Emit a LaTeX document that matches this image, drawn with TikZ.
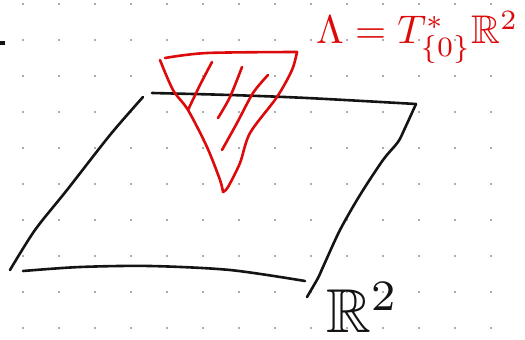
\documentclass[tikz,border=0pt]{standalone}
\usepackage{amssymb}
\usepackage{graphicx}
\definecolor{ink}{RGB}{20,20,20}
\definecolor{redink}{RGB}{220,10,10}
\definecolor{gridgray}{RGB}{90,90,90}
\begin{document}
\begin{tikzpicture}[x=1pt,y=-1pt,
  blackstroke/.style={draw=ink,line width=2.6pt,line cap=round,line join=round},
  redstroke/.style={draw=redink,line width=2.6pt,line cap=round,line join=round},
  griddot/.style={fill=gridgray},
  redlabel/.style={text=redink,inner sep=0pt,anchor=north west},
  blacklabel/.style={text=ink,inner sep=0pt,anchor=north west}]
\useasboundingbox (0,0) rectangle (525,340);
% dotted grid
\foreach \i in {0,...,13}{
  \foreach \j in {0,...,9}{
    \fill[griddot] (23+36*\i,4+36*\j) circle (0.9pt);
  }
}
% stray mark at left
\fill[ink] (0,41) rectangle (5,45);
% parallelogram (plane)
\draw[blackstroke] plot[smooth] coordinates {(143,97) (110,135) (67,190) (35,230) (10,270)};
\draw[blackstroke] plot[smooth] coordinates {(152,93) (230,95) (307,98) (416,104)};
\draw[blackstroke] plot[smooth] coordinates {(416,104) (405,128) (398,142) (383,160) (360,195) (340,230) (323,267) (318,278) (307,297)};
\draw[blackstroke] plot[smooth] coordinates {(23,271) (80,267) (150,266) (230,270) (305,281)};
% red cone
\draw[redstroke] plot[smooth] coordinates {(165,58) (207,53) (297,52)};
\draw[redstroke] plot[smooth] coordinates {(160,60) (173,90) (188,110) (207,147) (220,180) (223,192)};
\draw[redstroke] plot[smooth] coordinates {(297,52) (292,70) (277,97) (250,133) (240,163) (228,187) (223,192)};
\draw[redstroke] plot[smooth] coordinates {(212,62) (200,85) (188,110)};
\draw[redstroke] plot[smooth] coordinates {(242,67) (230,97) (218,118)};
\draw[redstroke] plot[smooth] coordinates {(268,75) (253,93) (237,123) (222,150)};
% labels
\node[redlabel] (lam) at (316,11) {\scalebox{4.0}{$\Lambda = T^{*}_{\{0\}}\mathbb{R}^{2}$}};
\node[blacklabel] (rr) at (326,282) {\scalebox{6.2}{$\mathbb{R}^{2}$}};
\end{tikzpicture}
\end{document}
